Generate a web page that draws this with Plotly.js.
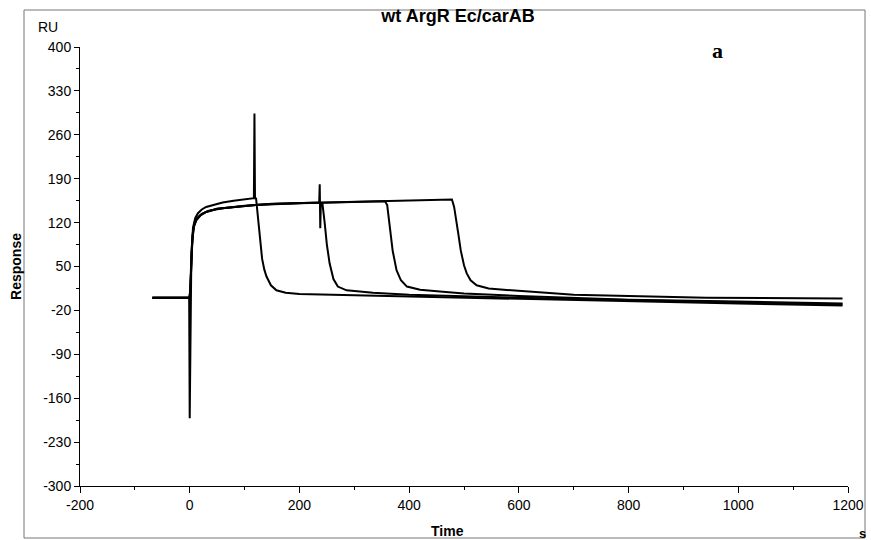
<!DOCTYPE html>
<html>
<head>
<meta charset="utf-8">
<script src="https://cdn.plot.ly/plotly-3.0.1.min.js"></script>
<style>html,body{margin:0;padding:0;background:#fff;}#chart{width:871px;height:540px;}</style>
</head>
<body>
<div id="chart"></div>
<script>
// Sensorgram curves (time s, response RU)
const xA = [-68, -40, -20, -1, 0, 1.5, 3, 6, 10, 15, 22, 30, 45, 60, 80, 100, 117, 118, 119, 121, 122, 125, 128, 132, 136, 140, 148, 158, 175, 200, 300, 400, 600, 800, 1000, 1190];
const yA = [0, 0, 0, 0, -192, 30, 70, 112, 127, 135, 141, 145, 149, 152, 155, 157, 159, 294, 160, 158, 150, 120, 92, 62, 45, 34, 20, 12, 8, 6, 4, 2, -2, -6, -9, -12];

const xB = [-68, -40, -20, -1, 1, 3, 5, 8, 12, 20, 30, 50, 80, 120, 160, 200, 236, 237, 238, 239, 242, 246, 250, 255, 262, 270, 286, 334, 400, 600, 800, 1000, 1190];
const yB = [0, 0, 0, 0, 10, 50, 95, 115, 124, 132, 137, 142, 145, 148, 150, 151, 152, 181, 111, 150, 150, 120, 85, 55, 30, 18, 12, 8, 5, 0, -4, -7, -10];

const xC = [-68, -40, -20, 0, 1.5, 4, 7, 12, 20, 30, 50, 80, 120, 200, 300, 356, 360, 363, 366, 370, 377, 385, 396, 420, 456, 500, 600, 800, 1000, 1190];
const yC = [0, 0, 0, 0, 20, 80, 112, 124, 132, 137, 142, 145, 148, 151, 153, 154, 148, 125, 100, 75, 44, 28, 18, 13, 10, 7, 3, -3, -6, -9];

const xD = [-68, -40, -20, 0, 2, 5, 9, 14, 22, 35, 60, 100, 150, 250, 350, 400, 478, 482, 486, 490, 494, 500, 505, 512, 523, 545, 578, 700, 800, 942, 1190];
const yD = [0, 0, 0, 0, 40, 100, 120, 128, 134, 139, 143, 147, 150, 152, 155, 156, 157, 145, 125, 100, 76, 52, 39, 28, 20, 15, 12.5, 5, 3, 0, -1];

// Tick values and labels (hyphen-minus as in the reference)
const yTickVals = [-300, -230, -160, -90, -20, 50, 120, 190, 260, 330, 400];
const yTickText = ['-300', '-230', '-160', '-90', '-20', '50', '120', '190', '260', '330', '400'];
const xTickVals = [-200, 0, 200, 400, 600, 800, 1000, 1200];
const xTickText = ['-200', '0', '200', '400', '600', '800', '1000', '1200'];

const fontFam = '"Liberation Sans", Arial, sans-serif';
const line = {color: '#000', width: 2};
const mk = (x, y) => ({x: x, y: y, type: 'scatter', mode: 'lines', line: line, hoverinfo: 'skip', showlegend: false});

const data = [mk(xA, yA), mk(xB, yB), mk(xC, yC), mk(xD, yD)];

const layout = {
  width: 871, height: 540,
  margin: {l: 80, r: 23, t: 47, b: 54},
  paper_bgcolor: '#fff', plot_bgcolor: '#fff',
  font: {family: fontFam, color: '#000', size: 14},
  title: {text: '<b>wt ArgR Ec/carAB</b>', font: {family: fontFam, size: 18, color: '#000'},
          xref: 'paper', x: (458 - 80) / 768, xanchor: 'center', yref: 'container', y: 1 - 16 / 540, yanchor: 'middle'},
  xaxis: {
    range: [-200, 1200], tickmode: 'array', tickvals: xTickVals, ticktext: xTickText,
    showgrid: false, zeroline: false,
    showline: true, linecolor: '#000', linewidth: 1,
    ticks: 'outside', ticklen: 6, tickcolor: '#000', tickfont: {size: 14, family: fontFam},
    minor: {tickmode: 'linear', tick0: -200, dtick: 100, ticks: 'outside', ticklen: 3, tickcolor: '#000', showgrid: false}
  },
  yaxis: {
    range: [-300, 400], tickmode: 'array', tickvals: yTickVals, ticktext: yTickText,
    showgrid: false, zeroline: false,
    showline: true, linecolor: '#000', linewidth: 1,
    ticks: 'outside', ticklen: 5, tickcolor: '#000', tickfont: {size: 14, family: fontFam},
    minor: {tickmode: 'linear', tick0: -300, dtick: 35, ticks: 'outside', ticklen: 3, tickcolor: '#000', showgrid: false},
    title: {text: '<b>Response</b>', font: {size: 14, family: fontFam}, standoff: 18}
  },
  annotations: [
    {text: 'RU', xref: 'paper', yref: 'paper', x: (48 - 80) / 768, y: (486 - 27) / 439, showarrow: false,
     xanchor: 'center', yanchor: 'middle', font: {size: 14, family: fontFam}},
    {text: '<b>Time</b>', xref: 'paper', yref: 'paper', x: (447 - 80) / 768, y: (486 - 531) / 439, showarrow: false,
     xanchor: 'center', yanchor: 'middle', font: {size: 14, family: fontFam}},
    {text: '<b>a</b>', xref: 'paper', yref: 'paper', x: (717 - 80) / 768, y: (486 - 50) / 439, showarrow: false,
     xanchor: 'center', yanchor: 'middle', font: {size: 22, family: '"Liberation Serif", "Times New Roman", serif'}},
    {text: '<b>s</b>', xref: 'paper', yref: 'paper', x: (862 - 80) / 768, y: (486 - 533) / 439, showarrow: false,
     xanchor: 'center', yanchor: 'middle', font: {size: 13, family: fontFam}}
  ],
  shapes: [
    {type: 'rect', xref: 'paper', yref: 'paper', x0: (24 - 80) / 768, x1: (865 - 80) / 768,
     y0: (486 - 538) / 439, y1: (486 - 10) / 439, line: {color: '#777', width: 1}}
  ]
};

Plotly.newPlot('chart', data, layout, {staticPlot: true});
</script>
</body>
</html>
